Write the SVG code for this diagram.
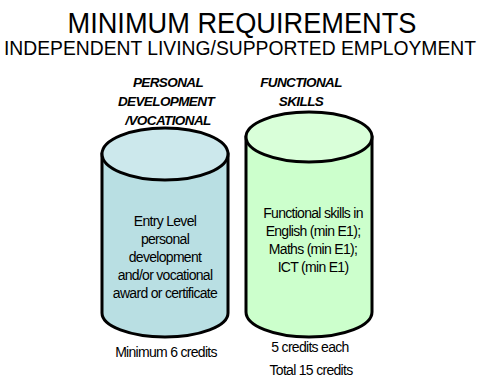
<svg xmlns="http://www.w3.org/2000/svg" width="481" height="379" viewBox="0 0 481 379">
<style>
  text { font-family: "Liberation Sans", Arial, sans-serif; fill: #000; text-anchor: middle; }
  .title { font-size: 29px; }
  .sub { font-size: 20.5px; }
  .head { font-size: 13.5px; font-weight: bold; font-style: italic; letter-spacing: -0.6px; }
  .body { font-size: 14px; letter-spacing: -0.7px; }
  .outline { stroke: #000; stroke-width: 3; }
</style>
<rect width="481" height="379" fill="#fff"/>
<text class="title" x="242" y="33" textLength="349" lengthAdjust="spacingAndGlyphs">MINIMUM REQUIREMENTS</text>
<text class="sub" x="240" y="54.5" textLength="472" lengthAdjust="spacingAndGlyphs">INDEPENDENT LIVING/SUPPORTED EMPLOYMENT</text>

<g id="personal">
  <text class="head" x="168" y="87">PERSONAL</text>
  <text class="head" x="166" y="106">DEVELOPMENT</text>
  <text class="head" x="168" y="125">/VOCATIONAL</text>
  <path class="outline" d="M102,154 L102,313 A63,24 0 0 0 228,313 L228,154 Z" fill="#b9dfe3"/>
  <ellipse class="outline" cx="165" cy="154" rx="63" ry="26" fill="#cce8ec"/>
  <text class="body" x="165" y="226">Entry Level</text>
  <text class="body" x="165" y="244">personal</text>
  <text class="body" x="165" y="262">development</text>
  <text class="body" x="165" y="280">and/or vocational</text>
  <text class="body" x="165" y="298">award or certificate</text>
  <text class="body" x="166" y="357">Minimum 6 credits</text>
</g>

<g id="functional">
  <text class="head" x="301" y="87">FUNCTIONAL</text>
  <text class="head" x="301" y="106">SKILLS</text>
  <path class="outline" d="M246,137 L246,312 A63,25 0 0 0 372,312 L372,137 Z" fill="#ccffcc"/>
  <ellipse class="outline" cx="309" cy="137" rx="63" ry="25" fill="#d9ffd9"/>
  <text class="body" x="313" y="218">Functional skills in</text>
  <text class="body" x="313" y="236">English (min E1);</text>
  <text class="body" x="313" y="254">Maths (min E1);</text>
  <text class="body" x="313" y="272">ICT (min E1)</text>
  <text class="body" x="310" y="352">5 credits each</text>
  <text class="body" x="311" y="375">Total 15 credits</text>
</g>

<g id="connectors"></g>
</svg>
